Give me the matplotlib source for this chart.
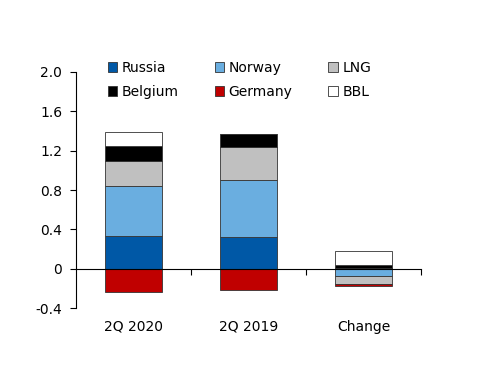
import numpy as np
import matplotlib.pyplot as plt
from matplotlib.patches import Patch

# categories and stacked series
categories = ['2Q 2020', '2Q 2019', 'Change']
series_names = ['Russia', 'Norway', 'LNG', 'Belgium', 'Germany', 'BBL']
russia = [0.33, 0.32, 0.01]
norway = [0.51, 0.58, -0.07]
lng = [0.25, 0.34, -0.09]
belgium = [0.16, 0.13, 0.03]
germany = [-0.24, -0.22, -0.02]
bbl = [0.14, 0.0, 0.14]
yticks = [-0.4, 0, 0.4, 0.8, 1.2, 1.6, 2.0]
ytick_labels = ['-0.4', '0', '0.4', '0.8', '1.2', '1.6', '2.0']

colors = ['#0058A6', '#6AAEE0', '#C0C0C0', '#000000', '#C00000', '#FFFFFF']
data = [russia, norway, lng, belgium, germany, bbl]

fig = plt.figure(figsize=(5, 3.86), dpi=100)
ax = fig.add_axes([0.152, 0.202, 0.69, 0.6115])

x = np.arange(len(categories))
pos_base = np.zeros(len(categories))
neg_base = np.zeros(len(categories))
for vals, col in zip(data, colors):
    vals = np.array(vals)
    base = np.where(vals >= 0, pos_base, neg_base)
    ax.bar(x, vals, bottom=base, width=0.5, color=col,
           edgecolor='#333333', linewidth=0.6, zorder=2)
    pos_base += np.where(vals >= 0, vals, 0)
    neg_base += np.where(vals < 0, vals, 0)

ax.set_xlim(-0.5, 2.5)
ax.set_ylim(-0.4, 2.0)
ax.set_yticks(yticks)
ax.set_yticklabels(ytick_labels, fontsize=10)
ax.tick_params(axis='y', direction='out', length=4, width=0.8, pad=6)

ax.spines['top'].set_visible(False)
ax.spines['right'].set_visible(False)
ax.spines['left'].set_linewidth(0.8)
ax.spines['bottom'].set_position(('data', 0))
ax.spines['bottom'].set_linewidth(0.8)
ax.spines['bottom'].set_zorder(3)
ax.set_xticks([0.5, 1.5, 2.5])
ax.set_xticklabels([])
ax.tick_params(axis='x', direction='out', length=4, width=0.8)

for xi, lab in zip(x, categories):
    ax.text(xi, -0.59, lab, ha='center', va='center', fontsize=10)

# legend fills column-wise, so reorder to read row-wise
handles = [Patch(facecolor=c, edgecolor='#333333', linewidth=0.6) for c in colors]
order = [0, 3, 1, 4, 2, 5]
fig.legend([handles[i] for i in order], [series_names[i] for i in order],
           ncol=3, loc='upper left',
           bbox_to_anchor=(0.19, 0.875), frameon=False, fontsize=10,
           handlelength=0.7, handleheight=0.7, handletextpad=0.3,
           columnspacing=2.6, labelspacing=0.75)

fig.savefig('out.png', dpi=100)
